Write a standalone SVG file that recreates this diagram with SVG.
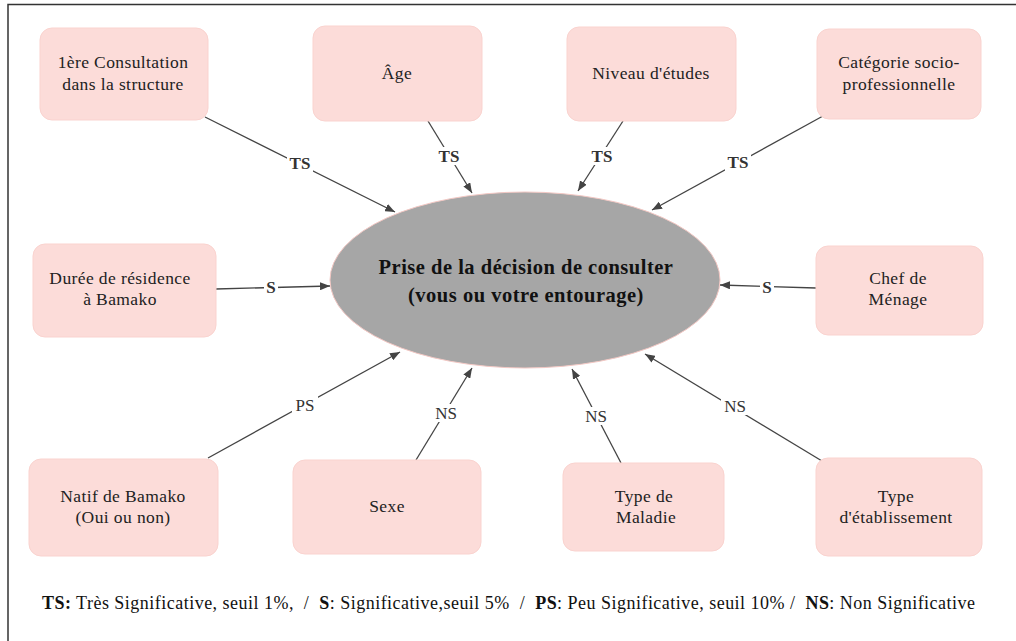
<svg xmlns="http://www.w3.org/2000/svg" width="1016" height="641" viewBox="0 0 1016 641">
<style>
.node rect{fill:#fcdcd9;stroke:#fad3cf;stroke-width:1}
.nt{font-size:17.5px;letter-spacing:0.4px;fill:#222;text-anchor:middle}
.edge{stroke:#444;stroke-width:1.3;fill:none;marker-end:url(#arr)}
.lbl{font-size:17px;fill:#333;text-anchor:middle}
.lb{font-weight:bold}
.lbg{fill:#fff}
.leg{font-size:18px;fill:#111}
</style>
<defs>
<marker id="arr" viewBox="0 0 10 8" refX="10" refY="4" markerWidth="10" markerHeight="8" markerUnits="userSpaceOnUse" orient="auto">
<path d="M0,0 L10,4 L0,8 Z" fill="#444"/>
</marker>
</defs>
<rect x="0" y="0" width="1016" height="641" fill="#fff"/>
<path d="M8,641 L8,4.5 L1016,4.5" fill="none" stroke="#333" stroke-width="1.5"/>

<g id="connectors" font-family="Liberation Serif, Times New Roman, serif">
<line class="edge" x1="205" y1="117" x2="395" y2="212"/>
<line class="edge" x1="428" y1="121" x2="472" y2="193"/>
<line class="edge" x1="623" y1="121" x2="578" y2="191"/>
<line class="edge" x1="823" y1="116" x2="652" y2="210"/>
<line class="edge" x1="216" y1="289" x2="330" y2="286"/>
<line class="edge" x1="816" y1="288" x2="720" y2="285"/>
<line class="edge" x1="208" y1="458" x2="400" y2="352"/>
<line class="edge" x1="416" y1="460" x2="472" y2="368"/>
<line class="edge" x1="621" y1="463" x2="572" y2="369"/>
<line class="edge" x1="822" y1="461" x2="645" y2="354"/>
<rect class="lbg" x="287" y="154" width="26" height="18"/>
<text class="lbl lb" x="300" y="169">TS</text>
<rect class="lbg" x="436" y="147" width="26" height="18"/>
<text class="lbl lb" x="449" y="162">TS</text>
<rect class="lbg" x="589" y="147" width="26" height="18"/>
<text class="lbl lb" x="602" y="162">TS</text>
<rect class="lbg" x="725" y="153" width="26" height="18"/>
<text class="lbl lb" x="738" y="168">TS</text>
<rect class="lbg" x="264" y="278" width="14" height="18"/>
<text class="lbl lb" x="271" y="293">S</text>
<rect class="lbg" x="760" y="278" width="14" height="18"/>
<text class="lbl lb" x="767" y="293">S</text>
<rect class="lbg" x="292" y="396" width="26" height="18"/>
<text class="lbl" x="305" y="411">PS</text>
<rect class="lbg" x="432" y="404" width="28" height="18"/>
<text class="lbl" x="446" y="419">NS</text>
<rect class="lbg" x="582" y="407" width="28" height="18"/>
<text class="lbl" x="596" y="422">NS</text>
<rect class="lbg" x="721" y="397" width="28" height="18"/>
<text class="lbl" x="735" y="412">NS</text>
</g>

<g id="center" font-family="Liberation Serif, Times New Roman, serif">
<ellipse cx="525" cy="280" rx="195" ry="88" fill="#a6a6a6" stroke="#f3c8c4" stroke-width="1"/>
<text x="526" y="274" font-size="20.5" letter-spacing="0.5" font-weight="bold" fill="#111" text-anchor="middle">Prise de la décision de consulter</text>
<text x="526" y="302" font-size="20.5" letter-spacing="0.5" font-weight="bold" fill="#111" text-anchor="middle">(vous ou votre entourage)</text>
</g>

<g font-family="Liberation Serif, Times New Roman, serif">
<g id="n1" class="node"><rect x="40" y="28" width="168" height="92" rx="12"/>
<text class="nt" x="123" y="68">1ère Consultation</text><text class="nt" x="123" y="90">dans la structure</text></g>
<g id="n2" class="node"><rect x="313" y="26" width="169" height="95" rx="12"/>
<text class="nt" x="397" y="79">Âge</text></g>
<g id="n3" class="node"><rect x="567" y="27" width="169" height="94" rx="12"/>
<text class="nt" x="651" y="79">Niveau d'études</text></g>
<g id="n4" class="node"><rect x="817" y="29" width="164" height="90" rx="12"/>
<text class="nt" x="899" y="68">Catégorie socio-</text><text class="nt" x="899" y="90">professionnelle</text></g>
<g id="n5" class="node"><rect x="33" y="244" width="183" height="93" rx="12"/>
<text class="nt" x="120" y="284">Durée de résidence</text><text class="nt" x="120" y="305">à Bamako</text></g>
<g id="n6" class="node"><rect x="816" y="246" width="167" height="89" rx="12"/>
<text class="nt" x="898" y="284">Chef de</text><text class="nt" x="898" y="305">Ménage</text></g>
<g id="n7" class="node"><rect x="29" y="459" width="189" height="97" rx="12"/>
<text class="nt" x="123" y="502">Natif de Bamako</text><text class="nt" x="123" y="523">(Oui ou non)</text></g>
<g id="n8" class="node"><rect x="293" y="460" width="188" height="94" rx="12"/>
<text class="nt" x="387" y="512">Sexe</text></g>
<g id="n9" class="node"><rect x="563" y="463" width="161" height="88" rx="12"/>
<text class="nt" x="644" y="502">Type de</text><text class="nt" x="646" y="523">Maladie</text></g>
<g id="n10" class="node"><rect x="816" y="458" width="166" height="98" rx="12"/>
<text class="nt" x="896" y="502">Type</text><text class="nt" x="896" y="523">d'établissement</text></g>
</g>

<text class="leg" font-family="Liberation Serif, Times New Roman, serif" x="42" y="609" textLength="933" lengthAdjust="spacing"><tspan font-weight="bold">TS:</tspan> Très Significative, seuil 1%, &#160;/ &#160;<tspan font-weight="bold">S</tspan>: Significative,seuil 5% &#160;/ &#160;<tspan font-weight="bold">PS</tspan>: Peu Significative, seuil 10% / &#160;<tspan font-weight="bold">NS</tspan>: Non Significative</text>
</svg>
